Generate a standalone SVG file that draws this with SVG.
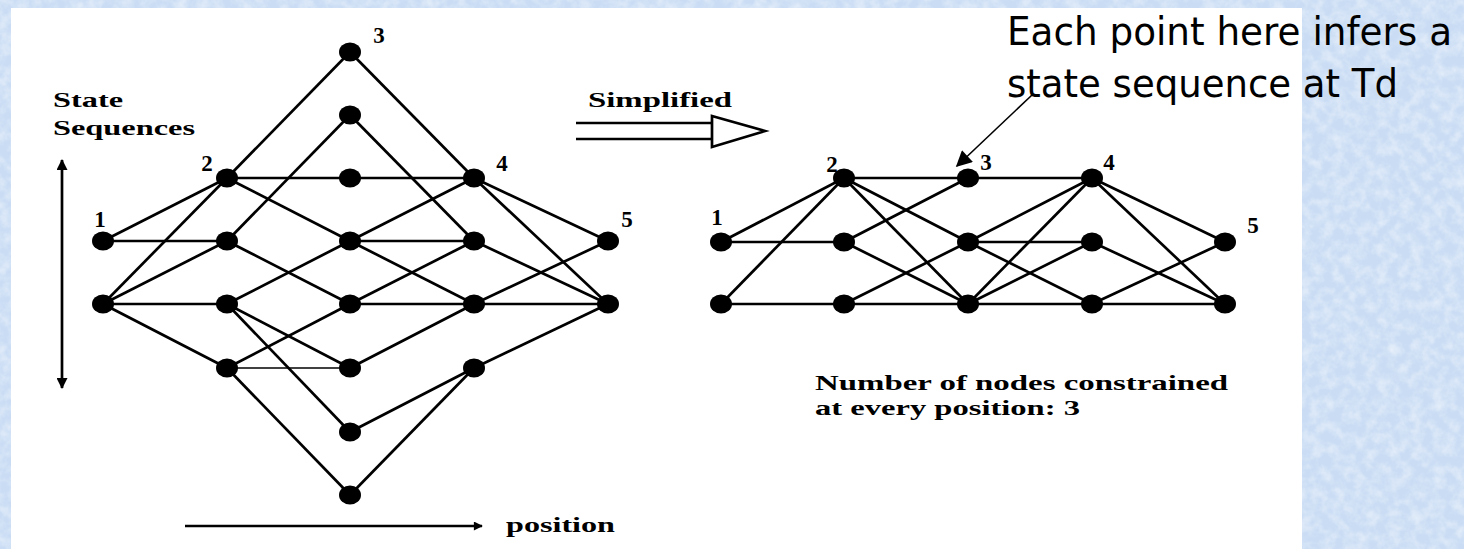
<svg xmlns="http://www.w3.org/2000/svg" width="1464" height="549" viewBox="0 0 1464 549">
<defs>
<filter id="tex" x="0" y="0" width="100%" height="100%">
<feTurbulence type="fractalNoise" baseFrequency="0.09" numOctaves="3" seed="7"/>
<feColorMatrix type="matrix" values="0 0 0 0 1  0 0 0 0 1  0 0 0 0 1  1.6 0 0 0 -0.55"/>
</filter>
<marker id="vhead" viewBox="0 0 10 10" refX="9" refY="5" markerWidth="13" markerHeight="11" markerUnits="userSpaceOnUse" orient="auto-start-reverse">
<path d="M0,0 L10,5 L0,10 z" fill="#000"/>
</marker>
<marker id="phead" viewBox="0 0 10 10" refX="9" refY="5" markerWidth="18" markerHeight="9" markerUnits="userSpaceOnUse" orient="auto">
<path d="M0,0 L10,5 L0,10 z" fill="#000"/>
</marker>
<marker id="ahead" viewBox="0 0 10 10" refX="9" refY="5" markerWidth="22" markerHeight="16" markerUnits="userSpaceOnUse" orient="auto">
<path d="M0,0 L10,5 L0,10 z" fill="#000"/>
</marker>
</defs>
<style>
.e{stroke:#000;stroke-width:2.7;fill:none}
.thin{stroke-width:1.5}
.n{fill:#000}
.lab{font-family:"Liberation Serif",serif;font-weight:bold;font-size:21px;fill:#000}
.num{font-family:"Liberation Serif",serif;font-weight:bold;font-size:23px;fill:#000;text-anchor:middle}
.note{font-family:"DejaVu Sans","Liberation Sans",sans-serif;font-size:39px;fill:#000}
</style>
<rect width="1464" height="549" fill="#c9dcf4"/>
<rect width="1464" height="549" filter="url(#tex)" opacity="0.55"/>
<rect x="11" y="8" width="1291" height="541" fill="#fff"/>

<g id="connectors">
<!-- left graph -->
<line class="e" x1="103" y1="241" x2="227" y2="178"/>
<line class="e" x1="103" y1="241" x2="227" y2="241"/>
<line class="e" x1="103" y1="304" x2="227" y2="178"/>
<line class="e" x1="103" y1="304" x2="227" y2="241"/>
<line class="e" x1="103" y1="304" x2="227" y2="304"/>
<line class="e" x1="103" y1="304" x2="227" y2="368"/>
<line class="e" x1="227" y1="178" x2="350" y2="52"/>
<line class="e" x1="227" y1="178" x2="350" y2="178"/>
<line class="e" x1="227" y1="178" x2="350" y2="241"/>
<line class="e" x1="227" y1="241" x2="350" y2="115"/>
<line class="e" x1="227" y1="241" x2="350" y2="304"/>
<line class="e" x1="227" y1="304" x2="350" y2="241"/>
<line class="e" x1="227" y1="304" x2="350" y2="368"/>
<line class="e" x1="227" y1="304" x2="350" y2="432"/>
<line class="e" x1="227" y1="368" x2="350" y2="304"/>
<line class="e thin" x1="227" y1="368" x2="350" y2="368"/>
<line class="e" x1="227" y1="368" x2="350" y2="495"/>
<line class="e" x1="350" y1="52" x2="474" y2="178"/>
<line class="e" x1="350" y1="115" x2="474" y2="241"/>
<line class="e" x1="350" y1="178" x2="474" y2="178"/>
<line class="e" x1="350" y1="241" x2="474" y2="178"/>
<line class="e" x1="350" y1="241" x2="474" y2="241"/>
<line class="e" x1="350" y1="241" x2="474" y2="304"/>
<line class="e" x1="350" y1="304" x2="474" y2="241"/>
<line class="e" x1="350" y1="304" x2="474" y2="304"/>
<line class="e" x1="350" y1="368" x2="474" y2="304"/>
<line class="e" x1="350" y1="432" x2="474" y2="368"/>
<line class="e" x1="350" y1="495" x2="474" y2="368"/>
<line class="e" x1="474" y1="178" x2="608" y2="241"/>
<line class="e" x1="474" y1="178" x2="608" y2="304"/>
<line class="e" x1="474" y1="241" x2="608" y2="304"/>
<line class="e" x1="474" y1="304" x2="608" y2="241"/>
<line class="e" x1="474" y1="304" x2="608" y2="304"/>
<line class="e" x1="474" y1="368" x2="608" y2="304"/>
<!-- right graph -->
<line class="e" x1="721" y1="242" x2="844" y2="178"/>
<line class="e" x1="721" y1="242" x2="844" y2="242"/>
<line class="e" x1="721" y1="304" x2="844" y2="178"/>
<line class="e" x1="721" y1="304" x2="844" y2="304"/>
<line class="e" x1="844" y1="178" x2="968" y2="178"/>
<line class="e" x1="844" y1="178" x2="968" y2="242"/>
<line class="e" x1="844" y1="178" x2="968" y2="304"/>
<line class="e" x1="844" y1="242" x2="968" y2="178"/>
<line class="e" x1="844" y1="242" x2="968" y2="304"/>
<line class="e" x1="844" y1="304" x2="968" y2="242"/>
<line class="e" x1="844" y1="304" x2="968" y2="304"/>
<line class="e" x1="968" y1="178" x2="1092" y2="178"/>
<line class="e" x1="968" y1="242" x2="1092" y2="178"/>
<line class="e" x1="968" y1="242" x2="1092" y2="242"/>
<line class="e" x1="968" y1="242" x2="1092" y2="304"/>
<line class="e" x1="968" y1="304" x2="1092" y2="178"/>
<line class="e" x1="968" y1="304" x2="1092" y2="242"/>
<line class="e" x1="968" y1="304" x2="1092" y2="304"/>
<line class="e" x1="1092" y1="178" x2="1225" y2="242"/>
<line class="e" x1="1092" y1="178" x2="1225" y2="304"/>
<line class="e" x1="1092" y1="242" x2="1225" y2="304"/>
<line class="e" x1="1092" y1="304" x2="1225" y2="242"/>
<line class="e" x1="1092" y1="304" x2="1225" y2="304"/>
<!-- axes -->
<line class="e" x1="62" y1="160" x2="62" y2="388" marker-start="url(#vhead)" marker-end="url(#vhead)"/>
<line class="e" x1="185" y1="526" x2="482" y2="526" marker-end="url(#phead)"/>
<!-- simplified arrow -->
<line class="e" x1="576" y1="123" x2="712" y2="123"/>
<line class="e" x1="576" y1="139" x2="712" y2="139"/>
<polygon points="712,116 765,131 712,147" fill="#fff" stroke="#000" stroke-width="2.7"/>
<!-- annotation arrow -->
<line x1="1032" y1="95" x2="957" y2="166" stroke="#000" stroke-width="1.6" marker-end="url(#ahead)"/>
</g>

<g id="left-graph">
<g id="L1a"><ellipse class="n" cx="103" cy="241" rx="11" ry="9.5"/></g>
<g id="L1b"><ellipse class="n" cx="103" cy="304" rx="11" ry="9.5"/></g>
<g id="L2a"><ellipse class="n" cx="227" cy="178" rx="11" ry="9.5"/></g>
<g id="L2b"><ellipse class="n" cx="227" cy="241" rx="11" ry="9.5"/></g>
<g id="L2c"><ellipse class="n" cx="227" cy="304" rx="11" ry="9.5"/></g>
<g id="L2d"><ellipse class="n" cx="227" cy="368" rx="11" ry="9.5"/></g>
<g id="L3a"><ellipse class="n" cx="350" cy="52" rx="11" ry="9.5"/></g>
<g id="L3b"><ellipse class="n" cx="350" cy="115" rx="11" ry="9.5"/></g>
<g id="L3c"><ellipse class="n" cx="350" cy="178" rx="11" ry="9.5"/></g>
<g id="L3d"><ellipse class="n" cx="350" cy="241" rx="11" ry="9.5"/></g>
<g id="L3e"><ellipse class="n" cx="350" cy="304" rx="11" ry="9.5"/></g>
<g id="L3f"><ellipse class="n" cx="350" cy="368" rx="11" ry="9.5"/></g>
<g id="L3g"><ellipse class="n" cx="350" cy="432" rx="11" ry="9.5"/></g>
<g id="L3h"><ellipse class="n" cx="350" cy="495" rx="11" ry="9.5"/></g>
<g id="L4a"><ellipse class="n" cx="474" cy="178" rx="11" ry="9.5"/></g>
<g id="L4b"><ellipse class="n" cx="474" cy="241" rx="11" ry="9.5"/></g>
<g id="L4c"><ellipse class="n" cx="474" cy="304" rx="11" ry="9.5"/></g>
<g id="L4d"><ellipse class="n" cx="474" cy="368" rx="11" ry="9.5"/></g>
<g id="L5a"><ellipse class="n" cx="608" cy="241" rx="11" ry="9.5"/></g>
<g id="L5b"><ellipse class="n" cx="608" cy="304" rx="11" ry="9.5"/></g>
<text class="num" x="100" y="227">1</text>
<text class="num" x="207" y="171">2</text>
<text class="num" x="379" y="43">3</text>
<text class="num" x="502" y="171">4</text>
<text class="num" x="627" y="227">5</text>
</g>

<g id="right-graph">
<g id="R1a"><ellipse class="n" cx="721" cy="242" rx="11" ry="9.5"/></g>
<g id="R1b"><ellipse class="n" cx="721" cy="304" rx="11" ry="9.5"/></g>
<g id="R2a"><ellipse class="n" cx="844" cy="178" rx="11" ry="9.5"/></g>
<g id="R2b"><ellipse class="n" cx="844" cy="242" rx="11" ry="9.5"/></g>
<g id="R2c"><ellipse class="n" cx="844" cy="304" rx="11" ry="9.5"/></g>
<g id="R3a"><ellipse class="n" cx="968" cy="178" rx="11" ry="9.5"/></g>
<g id="R3b"><ellipse class="n" cx="968" cy="242" rx="11" ry="9.5"/></g>
<g id="R3c"><ellipse class="n" cx="968" cy="304" rx="11" ry="9.5"/></g>
<g id="R4a"><ellipse class="n" cx="1092" cy="178" rx="11" ry="9.5"/></g>
<g id="R4b"><ellipse class="n" cx="1092" cy="242" rx="11" ry="9.5"/></g>
<g id="R4c"><ellipse class="n" cx="1092" cy="304" rx="11" ry="9.5"/></g>
<g id="R5a"><ellipse class="n" cx="1225" cy="242" rx="11" ry="9.5"/></g>
<g id="R5b"><ellipse class="n" cx="1225" cy="304" rx="11" ry="9.5"/></g>
<text class="num" x="717" y="225">1</text>
<text class="num" x="832" y="172">2</text>
<text class="num" x="986" y="170">3</text>
<text class="num" x="1109" y="170">4</text>
<text class="num" x="1253" y="233">5</text>
</g>

<g id="labels">
<text class="lab" x="53" y="107" textLength="70" lengthAdjust="spacingAndGlyphs">State</text>
<text class="lab" x="53" y="135" textLength="142" lengthAdjust="spacingAndGlyphs">Sequences</text>
<text class="lab" x="588" y="107" textLength="144" lengthAdjust="spacingAndGlyphs">Simplified</text>
<text class="lab" x="506" y="532" textLength="109" lengthAdjust="spacingAndGlyphs">position</text>
<text class="lab" x="815" y="390" textLength="413" lengthAdjust="spacingAndGlyphs">Number of nodes constrained</text>
<text class="lab" x="815" y="415" textLength="265" lengthAdjust="spacingAndGlyphs">at every position: 3</text>
</g>

<g id="annotation">
<text class="note" x="1007" y="45" textLength="445" lengthAdjust="spacingAndGlyphs">Each point here infers a</text>
<text class="note" x="1007" y="97" textLength="391" lengthAdjust="spacingAndGlyphs">state sequence at Td</text>
</g>
</svg>
